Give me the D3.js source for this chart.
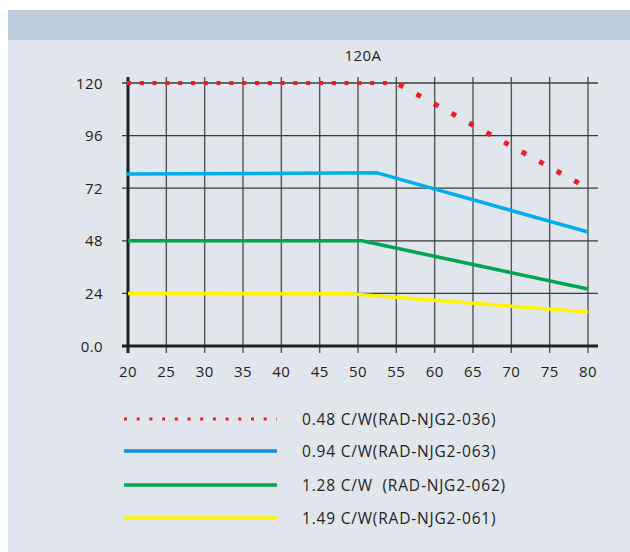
<!DOCTYPE html>
<html><head><meta charset="utf-8">
<script src="https://cdn.jsdelivr.net/npm/d3@7"></script>
<style>
html,body{margin:0;padding:0;background:#fff;}
svg{display:block;}
text{font-family:"Open Sans","Noto Sans",sans-serif;fill:#231f20;}
</style></head>
<body>
<svg id="chart" width="630" height="552"></svg>
<script>
const title = "120A";
const xTicks = [20,25,30,35,40,45,50,55,60,65,70,75,80];
const yTicks = [0,24,48,72,96,120];
const yTickLabels = ["0.0","24","48","72","96","120"];
const seriesNames = ["0.48 C/W(RAD-NJG2-036)","0.94 C/W(RAD-NJG2-063)","1.28 C/W  (RAD-NJG2-062)","1.49 C/W(RAD-NJG2-061)"];
const seriesColors = ["#ee1c25","#00aeef","#00a651","#fff200"];
const legendColors = ["#ee1c25","#0a93d8","#00a651","#fff200"];
const redX = [20,55,80];
const redY = [120,120,72];
const blueX = [19.8,52.5,80];
const blueY = [78.5,79,52];
const greenX = [20,50.5,80];
const greenY = [48,48,26];
const yellowX = [20,48.8,80];
const yellowY = [24,23.8,15.5];

const svg = d3.select("#chart");
svg.append("rect").attr("x",8).attr("y",10).attr("width",622).attr("height",542).attr("fill","#e1e6ed");
svg.append("rect").attr("x",8).attr("y",10).attr("width",622).attr("height",30).attr("fill","#bfcddd");

const x = d3.scaleLinear().domain([20,80]).range([128,588]);
const y = d3.scaleLinear().domain([0,120]).range([346,83]);

svg.append("text").attr("x",363).attr("y",61).attr("text-anchor","middle").attr("font-size",15).attr("letter-spacing",0.5).text(title);

svg.append("g").selectAll("line").data(xTicks.slice(1)).join("line")
  .attr("x1",d=>x(d)).attr("x2",d=>x(d)).attr("y1",77).attr("y2",353)
  .attr("stroke","#555").attr("stroke-width",1.4);
svg.append("g").selectAll("line").data(yTicks.slice(1)).join("line")
  .attr("x1",122).attr("x2",598).attr("y1",d=>y(d)).attr("y2",d=>y(d))
  .attr("stroke","#3a3a3a").attr("stroke-width",1.3);
svg.append("line").attr("x1",122).attr("x2",598).attr("y1",y(0)).attr("y2",y(0)).attr("stroke","#231f20").attr("stroke-width",3);
svg.append("line").attr("x1",x(20)).attr("x2",x(20)).attr("y1",77).attr("y2",353).attr("stroke","#231f20").attr("stroke-width",3);

svg.append("g").selectAll("text").data(yTicks).join("text")
  .attr("x",103).attr("y",d=>y(d)+5.5).attr("text-anchor","end").attr("font-size",15).attr("letter-spacing",0.4)
  .text((d,i)=>yTickLabels[i]);
svg.append("g").selectAll("text").data(xTicks).join("text")
  .attr("x",d=>x(d)).attr("y",377).attr("text-anchor","middle").attr("font-size",15).attr("letter-spacing",0.4)
  .text(d=>d);

const line = d3.line().x(d=>x(d[0])).y(d=>y(d[1]));
const zip = (a,b)=>a.map((v,i)=>[v,b[i]]);
const series = [zip(redX,redY),zip(blueX,blueY),zip(greenX,greenY),zip(yellowX,yellowY)];

[3,2,1].forEach(i=>{
  svg.append("path").attr("d",line(series[i])).attr("fill","none")
    .attr("stroke",seriesColors[i]).attr("stroke-width",3.5).attr("stroke-linejoin","round");
});
svg.append("path").attr("d",line(series[0].slice(0,2))).attr("fill","none")
  .attr("stroke",seriesColors[0]).attr("stroke-width",4).attr("stroke-dasharray","4,8.8")
  .attr("transform","translate(-1,0)");
svg.append("path").attr("d",line(series[0].slice(1))).attr("fill","none")
  .attr("stroke",seriesColors[0]).attr("stroke-width",5).attr("stroke-dasharray","0,3,5,12");

const legY = [419,451,485,518];
seriesNames.forEach((n,i)=>{
  const l = svg.append("line").attr("x1",124).attr("x2",277).attr("y1",legY[i]).attr("y2",legY[i])
    .attr("stroke",legendColors[i]).attr("stroke-width",i===0?3:3.5);
  if(i===0) l.attr("stroke-dasharray","3,9.7");
  svg.append("text").attr("x",302).attr("y",legY[i]+5.5).attr("font-size",15.5).attr("letter-spacing",0.8)
    .attr("xml:space","preserve").style("white-space","pre").text(n);
});
</script>
</body></html>
